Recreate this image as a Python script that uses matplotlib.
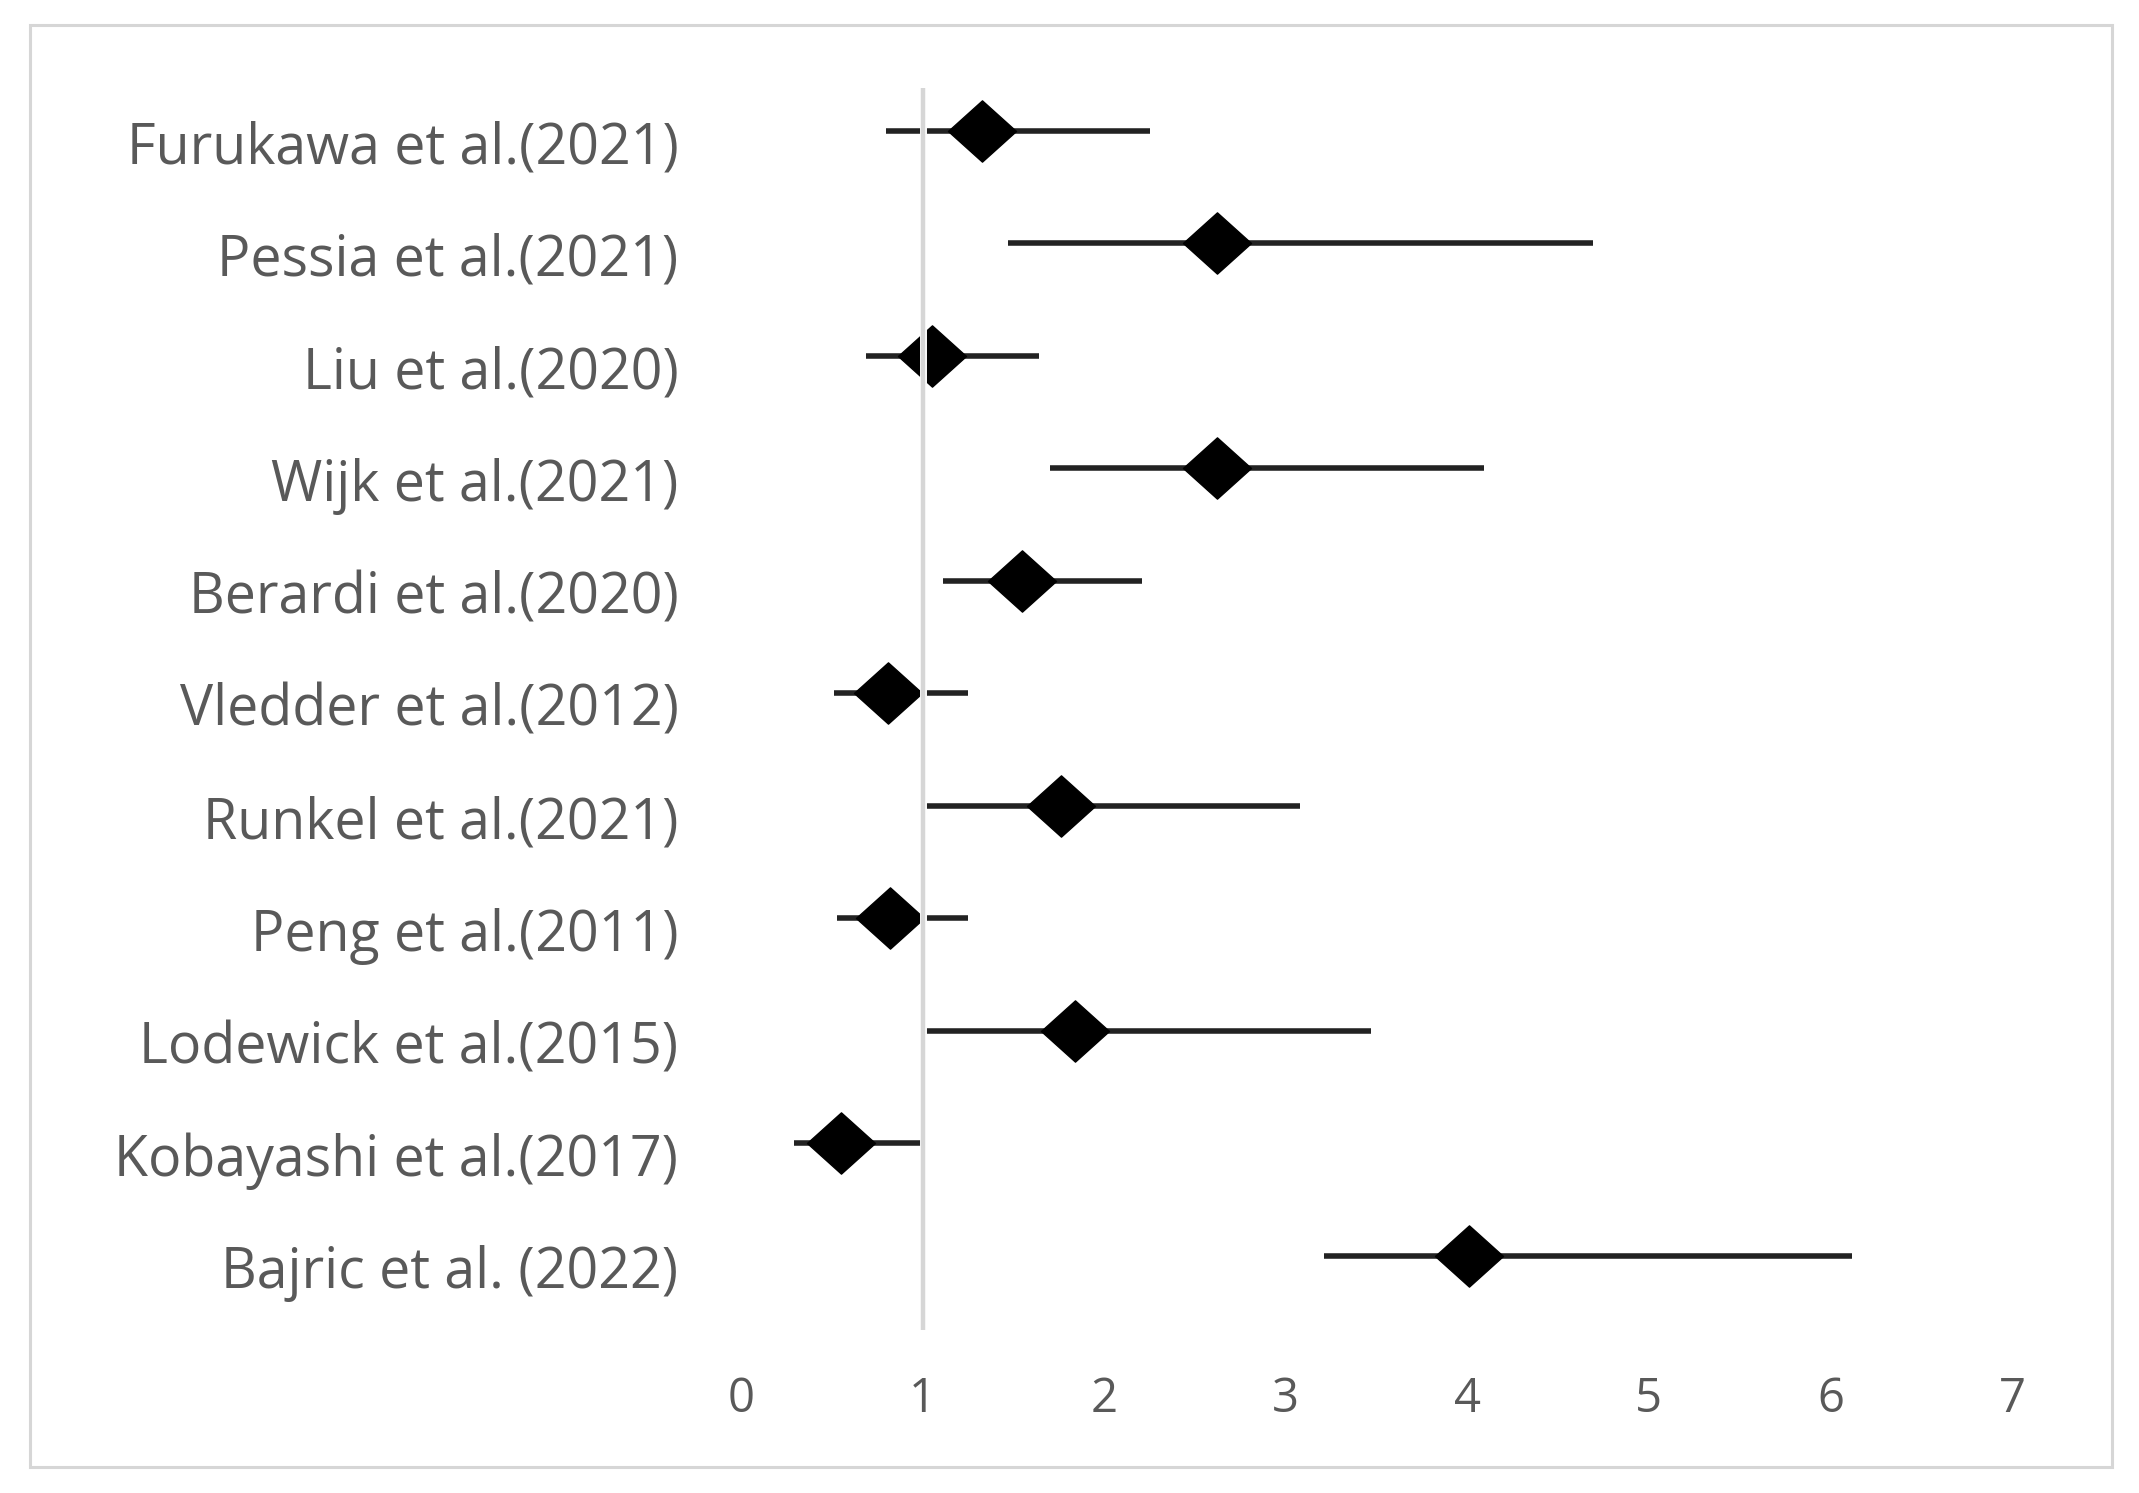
import matplotlib
matplotlib.use("Agg")
import matplotlib.pyplot as plt
import matplotlib.patheffects as pe
import matplotlib.transforms as mtransforms
from matplotlib.patches import Rectangle
from matplotlib.path import Path
import numpy as np

plt.rcParams.update({
    "font.family": ["Open Sans", "DejaVu Sans"],
    "figure.facecolor": "white",
})

# forest plot values (top to bottom)
studies = [
    "Furukawa et al.(2021)", "Pessia et al.(2021)", "Liu et al.(2020)",
    "Wijk et al.(2021)", "Berardi et al.(2020)", "Vledder et al.(2012)",
    "Runkel et al.(2021)", "Peng et al.(2011)", "Lodewick et al.(2015)",
    "Kobayashi et al.(2017)", "Bajric et al. (2022)",
]
estimate = [1.33, 2.62, 1.05, 2.62, 1.55, 0.81, 1.76, 0.82, 1.84, 0.55, 4.01]
ci_low = [0.80, 1.47, 0.69, 1.70, 1.11, 0.51, 1.02, 0.53, 1.02, 0.29, 3.21]
ci_high = [2.25, 4.69, 1.64, 4.09, 2.21, 1.25, 3.08, 1.25, 3.47, 1.02, 6.12]
x_ticks = [0, 1, 2, 3, 4, 5, 6, 7]

W, H = 2139, 1493
fig = plt.figure(figsize=(W / 100, H / 100), dpi=100)

# Excel-style chart frame
fig.patches.append(Rectangle((30 / W, 1 - 1467 / H), (2112 - 30) / W, (1467 - 25) / H,
                             transform=fig.transFigure, fill=False,
                             edgecolor="#d6d6d6", linewidth=2.2))

ax = fig.add_axes([741 / W, (H - 1330) / H, (2012 - 741) / W, (1330 - 88) / H])

y = np.arange(len(studies))[::-1]
est = np.array(estimate)
lo = np.array(ci_low)
hi = np.array(ci_high)

# diamond marker, slightly wider than tall
diamond = Path([(0, 0.9), (1, 0), (0, -0.9), (-1, 0), (0, 0.9)],
               [Path.MOVETO, Path.LINETO, Path.LINETO, Path.LINETO, Path.CLOSEPOLY])

ax.hlines(y, lo, hi, color="#222222", linewidth=4, zorder=2)
ax.plot(est, y, linestyle="none", marker=diamond, markersize=49,
        color="black", zorder=3)

ax.axvline(1, color="#d6d6d6", linewidth=3.2, zorder=5,
           path_effects=[pe.Stroke(linewidth=5, foreground="white"), pe.Normal()])

ax.set_xlim(0, 7)
ax.set_ylim(-0.658, 10.38)
ax.set_xticks(x_ticks)
ax.set_yticks(y)
ax.set_yticklabels(studies)
ax.tick_params(axis="x", length=0, pad=33, labelsize=34, labelcolor="#595959")
ax.tick_params(axis="y", length=0, pad=45, labelsize=40, labelcolor="#595959")
for s in ax.spines.values():
    s.set_visible(False)

# labels sit a little below the marker rows in the original
shift = mtransforms.ScaledTranslation(0, -0.11, fig.dpi_scale_trans)
for lbl in ax.get_yticklabels():
    lbl.set_transform(lbl.get_transform() + shift)

fig.savefig("out.png", dpi=100)
